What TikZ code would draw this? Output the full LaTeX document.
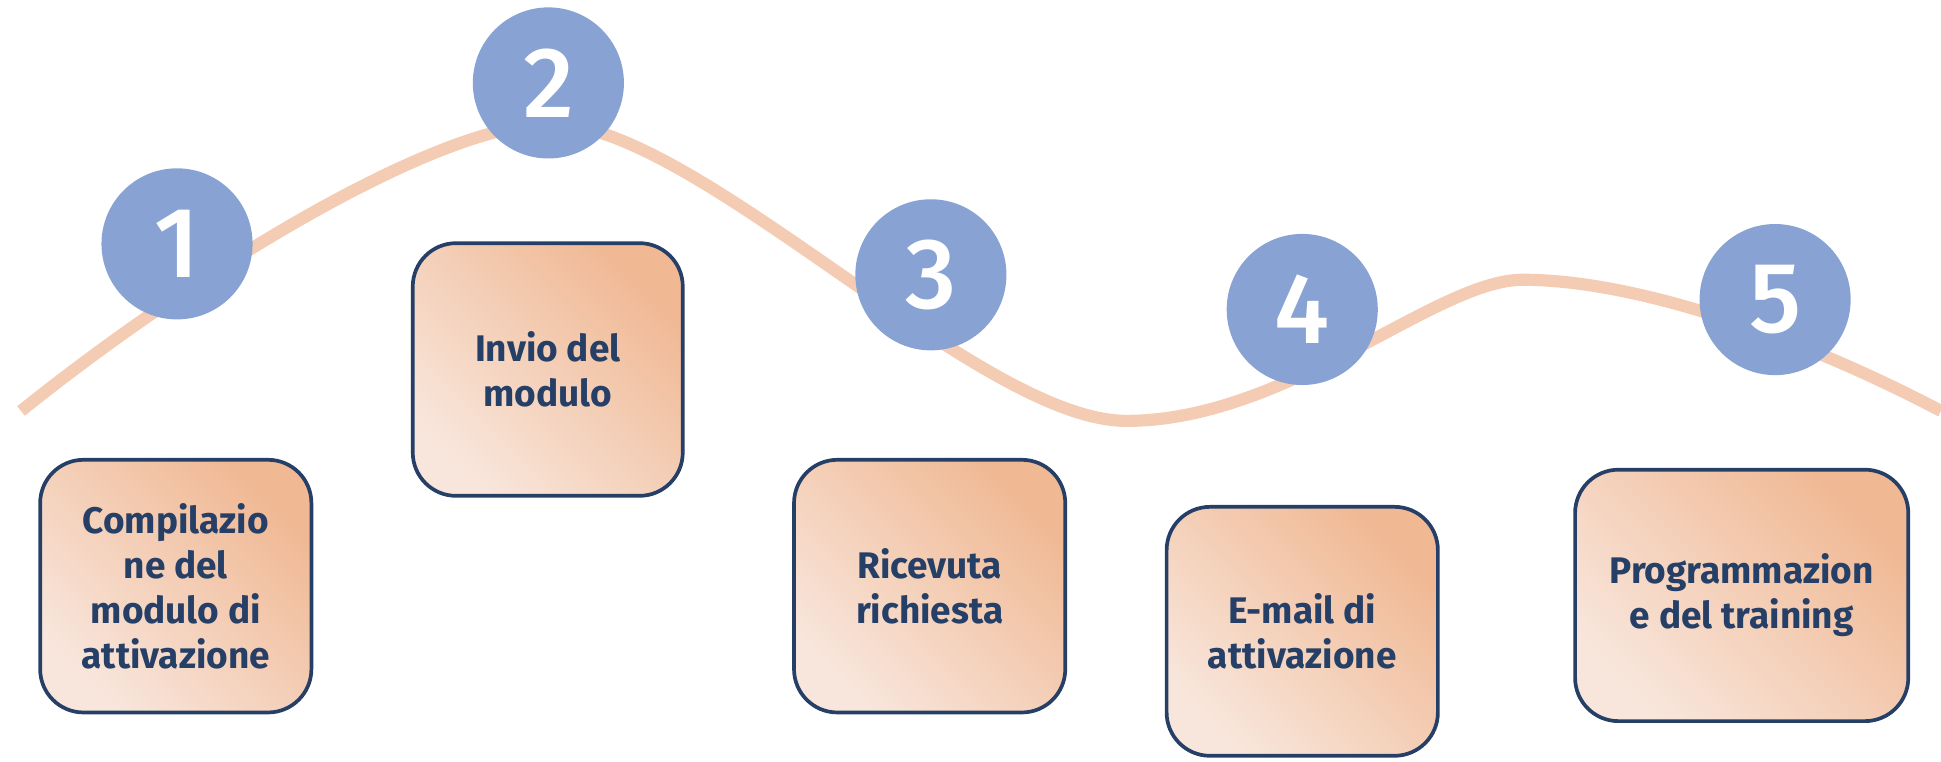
\documentclass[tikz,border=0pt]{standalone}
\usepackage{fontspec}
\setmainfont{Fira Sans}
\newfontfamily\numfont{Fira Sans Medium}
\usepackage{tikz}
\usetikzlibrary{positioning}

\definecolor{pathpeach}{HTML}{F4CCB4}
\definecolor{numblue}{HTML}{88A3D3}
\definecolor{boxnavy}{HTML}{263F66}
\definecolor{boxlight}{HTML}{F8E6DC}
\definecolor{boxdark}{HTML}{F0B893}

\tikzset{
  stepnum/.style={circle,fill=numblue,text=white,minimum size=1.22cm,inner sep=0pt,
    font=\numfont\fontsize{23}{23}\selectfont},
  stepbox/.style={draw=boxnavy,line width=0.85pt,rounded corners=0.35cm,text=boxnavy,
    align=center,minimum width=2.19cm,minimum height=2.04cm,
    font=\fontsize{8.5}{10.3}\selectfont\bfseries,
    bottom color=boxlight,top color=boxdark,shading angle=-45}
}

\begin{document}
\begin{tikzpicture}[x=0.01cm,y=-0.01cm]
\useasboundingbox (0,0) rectangle (1568,615);
% The path
\draw[pathpeach,line width=2.8pt] (17,332)
  .. controls (150,225) and (350,100) .. (445,100)
  .. controls (563,100) and (790,340) .. (910,340)
  .. controls (1040,340) and (1160,226) .. (1230,226)
  .. controls (1320,226) and (1450,270) .. (1568,332);
% The numbers
\foreach \n/\x/\y in {1/143/197,2/443/67,3/752/222,4/1052/250,5/1434/242}
  \node[stepnum] (num\n) at (\x,\y) {\n};
% The steps
\node[stepbox] (step1) at (142,473.5) {Compilazio\\ne del\\modulo di\\attivazione};
\node[stepbox,minimum width=2.18cm] (step2) at (442.5,298.5) {Invio del\\modulo};
\node[stepbox] (step3) at (751,473.5) {Ricevuta\\richiesta};
\node[stepbox,minimum height=2.01cm] (step4) at (1052,510) {E-mail di\\attivazione};
\node[stepbox,minimum width=2.69cm,minimum height=2.03cm] (step5) at (1407,481) {Programmazion\\e del training};
\end{tikzpicture}
\end{document}
